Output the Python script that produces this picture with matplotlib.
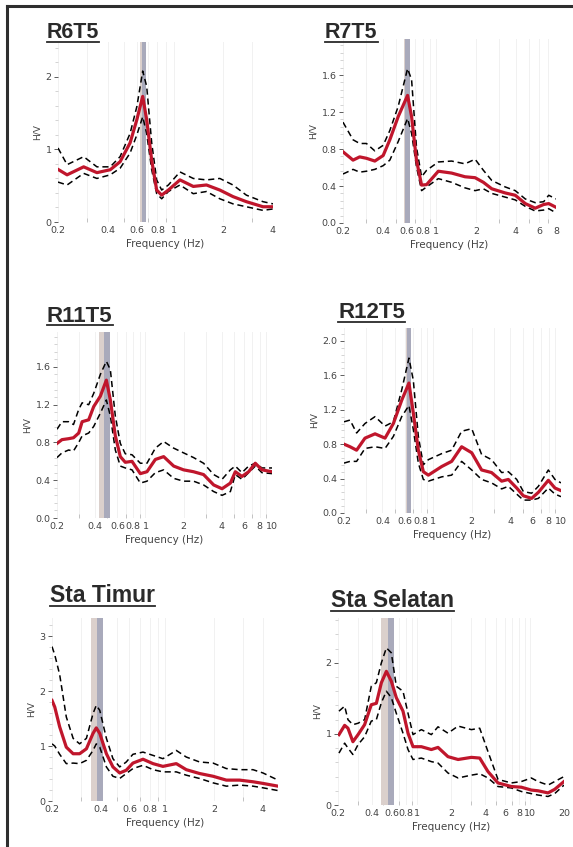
import matplotlib.pyplot as plt
from matplotlib.lines import Line2D
from matplotlib.ticker import FixedLocator, NullFormatter, LogLocator

# ---- R6T5 ----
r6_f = [0.2, 0.227, 0.286, 0.344, 0.414, 0.475, 0.546, 0.60, 0.651, 0.688, 0.738, 0.791,
        0.848, 0.931, 1.094, 1.317, 1.583, 1.907, 2.29, 2.76, 3.48, 4.0]
r6_mean = [0.725, 0.65, 0.76, 0.68, 0.72, 0.83, 1.09, 1.41, 1.73, 1.41, 0.85, 0.44,
           0.37, 0.44, 0.58, 0.49, 0.51, 0.44, 0.35, 0.28, 0.21, 0.21]
r6_up = [1.02, 0.79, 0.90, 0.76, 0.76, 0.90, 1.22, 1.59, 2.08, 1.87, 1.09, 0.58,
         0.44, 0.51, 0.69, 0.60, 0.58, 0.60, 0.51, 0.37, 0.28, 0.25]
r6_lo = [0.55, 0.51, 0.67, 0.60, 0.65, 0.74, 0.95, 1.20, 1.45, 1.22, 0.72, 0.39,
         0.32, 0.42, 0.51, 0.39, 0.42, 0.32, 0.25, 0.21, 0.16, 0.18]

# ---- R7T5 ----
r7_f = [0.2, 0.238, 0.267, 0.30, 0.347, 0.401, 0.45, 0.52, 0.612, 0.656, 0.714, 0.78,
        0.851, 1.042, 1.312, 1.655, 1.97, 2.275, 2.63, 3.32, 3.95, 4.7, 5.58, 6.46, 7.05, 8.0]
r7_mean = [0.77, 0.68, 0.715, 0.70, 0.67, 0.73, 0.90, 1.15, 1.38, 1.15, 0.68, 0.41,
           0.415, 0.56, 0.54, 0.50, 0.49, 0.44, 0.37, 0.325, 0.30, 0.21, 0.16, 0.20, 0.21, 0.17]
r7_up = [1.09, 0.90, 0.86, 0.86, 0.78, 0.84, 1.00, 1.26, 1.67, 1.55, 0.82, 0.50,
         0.57, 0.66, 0.67, 0.64, 0.69, 0.57, 0.46, 0.39, 0.35, 0.26, 0.22, 0.23, 0.30, 0.26]
r7_lo = [0.53, 0.58, 0.55, 0.56, 0.58, 0.62, 0.68, 0.88, 1.13, 0.97, 0.61, 0.35,
         0.39, 0.48, 0.44, 0.38, 0.35, 0.37, 0.32, 0.28, 0.25, 0.18, 0.13, 0.14, 0.155, 0.11]

# ---- R11T5 ----
r11_f = [0.2, 0.219, 0.247, 0.27, 0.297, 0.316, 0.356, 0.39, 0.44, 0.491, 0.528, 0.578,
         0.633, 0.693, 0.783, 0.911, 1.028, 1.197, 1.393, 1.671, 2.0, 2.4, 2.88, 3.46,
         4.03, 4.69, 5.13, 5.79, 6.54, 7.38, 8.33, 10.0]
r11_mean = [0.79, 0.83, 0.84, 0.85, 0.90, 1.02, 1.04, 1.18, 1.29, 1.46, 1.25, 0.87,
            0.65, 0.59, 0.60, 0.47, 0.49, 0.62, 0.65, 0.55, 0.51, 0.49, 0.46, 0.35,
            0.31, 0.37, 0.49, 0.44, 0.49, 0.58, 0.51, 0.49]
r11_up = [0.94, 1.02, 1.02, 0.99, 1.15, 1.22, 1.20, 1.32, 1.52, 1.66, 1.57, 1.08,
          0.79, 0.68, 0.67, 0.58, 0.58, 0.74, 0.81, 0.74, 0.69, 0.64, 0.58, 0.46,
          0.41, 0.51, 0.55, 0.48, 0.55, 0.58, 0.53, 0.53]
r11_lo = [0.64, 0.69, 0.72, 0.71, 0.80, 0.87, 0.90, 0.97, 1.11, 1.25, 1.08, 0.72,
          0.55, 0.53, 0.51, 0.37, 0.39, 0.48, 0.51, 0.42, 0.39, 0.39, 0.35, 0.28,
          0.24, 0.28, 0.46, 0.41, 0.48, 0.55, 0.48, 0.47]

# ---- R12T5 ----
r12_f = [0.2, 0.223, 0.251, 0.292, 0.35, 0.419, 0.487, 0.566, 0.645, 0.698, 0.764, 0.836,
         0.915, 1.164, 1.393, 1.667, 2.0, 2.39, 2.86, 3.43, 3.87, 4.5, 5.07, 5.89,
         6.65, 7.96, 8.97, 10.0]
r12_mean = [0.80, 0.77, 0.73, 0.87, 0.92, 0.87, 1.04, 1.31, 1.51, 1.16, 0.73, 0.48,
            0.44, 0.54, 0.60, 0.77, 0.70, 0.50, 0.47, 0.37, 0.39, 0.29, 0.20, 0.17,
            0.24, 0.38, 0.29, 0.26]
r12_up = [1.06, 1.08, 0.93, 1.04, 1.12, 1.01, 1.06, 1.43, 1.80, 1.54, 0.89, 0.56,
          0.62, 0.69, 0.73, 0.95, 0.98, 0.68, 0.62, 0.47, 0.48, 0.39, 0.25, 0.23,
          0.31, 0.50, 0.39, 0.35]
r12_lo = [0.58, 0.60, 0.60, 0.75, 0.77, 0.75, 0.89, 1.12, 1.25, 0.97, 0.58, 0.39,
          0.37, 0.42, 0.44, 0.60, 0.50, 0.39, 0.35, 0.28, 0.31, 0.22, 0.15, 0.15,
          0.17, 0.29, 0.22, 0.19]

# ---- Sta Timur ----
tim_f = [0.2, 0.208, 0.223, 0.245, 0.27, 0.296, 0.326, 0.358, 0.375, 0.394, 0.433, 0.475,
         0.523, 0.574, 0.631, 0.728, 0.839, 0.966, 1.168, 1.346, 1.626, 1.969, 2.377,
         2.87, 3.47, 4.0, 4.95]
tim_mean = [1.83, 1.71, 1.35, 0.98, 0.86, 0.86, 0.95, 1.23, 1.33, 1.23, 0.86, 0.62,
            0.51, 0.56, 0.69, 0.76, 0.68, 0.63, 0.68, 0.57, 0.50, 0.45, 0.38, 0.38,
            0.35, 0.32, 0.27]
tim_up = [2.81, 2.66, 2.30, 1.53, 1.14, 1.04, 1.14, 1.59, 1.74, 1.65, 1.14, 0.77,
          0.62, 0.71, 0.85, 0.89, 0.83, 0.77, 0.92, 0.80, 0.71, 0.69, 0.59, 0.57,
          0.57, 0.51, 0.38]
tim_lo = [1.04, 1.00, 0.85, 0.68, 0.69, 0.68, 0.74, 0.92, 1.04, 0.98, 0.62, 0.45,
          0.41, 0.50, 0.59, 0.65, 0.57, 0.53, 0.53, 0.47, 0.41, 0.33, 0.27, 0.29,
          0.27, 0.24, 0.19]

# ---- Sta Selatan ----
sel_f = [0.204, 0.229, 0.245, 0.271, 0.301, 0.344, 0.394, 0.437, 0.484, 0.536, 0.593,
         0.656, 0.752, 0.833, 0.922, 1.093, 1.34, 1.535, 1.88, 2.31, 3.03, 3.59, 4.25,
         5.21, 6.84, 8.39, 10.28, 11.78, 14.44, 16.54, 20.0]
sel_mean = [0.99, 1.12, 1.08, 0.89, 0.99, 1.13, 1.41, 1.43, 1.72, 1.88, 1.74, 1.51,
            1.32, 1.01, 0.82, 0.82, 0.78, 0.81, 0.68, 0.64, 0.67, 0.66, 0.47, 0.31,
            0.26, 0.25, 0.21, 0.20, 0.17, 0.22, 0.33]
sel_up = [1.32, 1.39, 1.20, 1.13, 1.15, 1.20, 1.67, 1.72, 2.00, 2.21, 2.14, 1.67,
          1.60, 1.29, 0.99, 1.06, 0.99, 1.10, 1.01, 1.11, 1.06, 1.08, 0.75, 0.36,
          0.31, 0.33, 0.38, 0.33, 0.28, 0.33, 0.40]
sel_lo = [0.73, 0.87, 0.80, 0.71, 0.85, 0.96, 1.18, 1.20, 1.44, 1.60, 1.51, 1.29,
          1.01, 0.78, 0.64, 0.66, 0.61, 0.59, 0.45, 0.38, 0.42, 0.44, 0.38, 0.26,
          0.24, 0.19, 0.16, 0.14, 0.12, 0.16, 0.28]

panels = [
    # name, f, mean, up, lo, band (lo, mid, hi), xlim, ylim, xticks, yticks, ydigits
    ("R6T5", r6_f, r6_mean, r6_up, r6_lo, (0.627, 0.645, 0.682), (0.2, 4), (0, 2.48),
     [0.2, 0.4, 0.6, 0.8, 1, 2, 4], [0, 1, 2], 0),
    ("R7T5", r7_f, r7_mean, r7_up, r7_lo, (0.575, 0.59, 0.638), (0.2, 8), (0, 1.99),
     [0.2, 0.4, 0.6, 0.8, 1, 2, 4, 6, 8], [0, 0.4, 0.8, 1.2, 1.6], 1),
    ("R11T5", r11_f, r11_mean, r11_up, r11_lo, (0.43, 0.47, 0.525), (0.2, 10), (0, 1.97),
     [0.2, 0.4, 0.6, 0.8, 1, 2, 4, 6, 8, 10], [0, 0.4, 0.8, 1.2, 1.6], 1),
    ("R12T5", r12_f, r12_mean, r12_up, r12_lo, (0.612, 0.625, 0.669), (0.2, 10), (0, 2.15),
     [0.2, 0.4, 0.6, 0.8, 1, 2, 4, 6, 8, 10], [0, 0.4, 0.8, 1.2, 1.6, 2.0], 1),
    ("Sta Timur", tim_f, tim_mean, tim_up, tim_lo, (0.348, 0.379, 0.413), (0.2, 4.95), (0, 3.33),
     [0.2, 0.4, 0.6, 0.8, 1, 2, 4], [0, 1, 2, 3], 0),
    ("Sta Selatan", sel_f, sel_mean, sel_up, sel_lo, (0.48, 0.554, 0.626), (0.2, 20), (0, 2.63),
     [0.2, 0.4, 0.6, 0.8, 1, 2, 4, 6, 8, 10, 20], [0, 1, 2], 0),
]

# axes rectangles in pixels: left, right, top, bottom
boxes = [(58, 273, 42, 222), (343, 556, 39, 223),
         (57, 272, 332, 518), (344, 561, 328, 513),
         (52, 278, 618, 801), (338, 564, 618, 805)]
# title left x, baseline y, underline y, font size
titles = [(47, 38, 42, 15.5), (325, 38, 42, 15.5),
          (47, 322, 325, 16), (338, 318, 322, 16),
          (50, 602, 606, 16.5), (331, 607, 611, 16.5)]

W, H = 573, 847
fig = plt.figure(figsize=(W / 100, H / 100), dpi=100)
fig.patch.set_facecolor("white")

tick_col = "#444444"
for p, box, tt in zip(panels, boxes, titles):
    name, f, mean, up, lo, band, xlim, ylim, xt, yt, yd = p
    l, r, t, b = box
    ax = fig.add_axes([l / W, 1 - b / H, (r - l) / W, (b - t) / H])
    ax.set_axisbelow(True)
    ax.set_xscale("log")
    ax.axvspan(band[0], band[1], color="#dbd0cc", lw=0, zorder=1)
    ax.axvspan(band[1], band[2], color="#a9aabb", lw=0, zorder=1)
    ax.plot(f, up, ls=(0, (4, 2.5)), color="black", lw=1.1, zorder=3)
    ax.plot(f, lo, ls=(0, (4, 2.5)), color="black", lw=1.1, zorder=3)
    ax.plot(f, mean, color="#c0162c", lw=2.3, zorder=4, solid_joinstyle="round")
    ax.set_xlim(*xlim)
    ax.set_ylim(*ylim)
    for s in ax.spines.values():
        s.set_visible(False)
    ax.xaxis.set_major_locator(FixedLocator(xt))
    ax.set_xticklabels([("%g" % v) for v in xt])
    ax.xaxis.set_minor_locator(LogLocator(base=10, subs=range(1, 10)))
    ax.xaxis.set_minor_formatter(NullFormatter())
    ax.yaxis.set_major_locator(FixedLocator(yt))
    ax.set_yticklabels([("%.*f" % (yd, v)) for v in yt])
    step = (yt[1] - yt[0]) / 5
    ax.yaxis.set_minor_locator(FixedLocator([i * step for i in range(int(ylim[1] / step) + 1)]))
    ax.grid(True, which="both", axis="x", color="#f1f1f1", lw=0.7)
    ax.tick_params(axis="both", which="major", labelsize=6.8, colors=tick_col,
                   length=3, width=0.6, pad=1.5)
    ax.tick_params(axis="x", which="minor", direction="in", length=3, width=0.6,
                   colors="#bbbbbb")
    ax.tick_params(axis="y", which="minor", direction="out", length=2, width=0.6,
                   colors="#cccccc")
    ax.tick_params(axis="x", which="major", direction="in", length=0, pad=3)
    ax.set_xlabel("Frequency (Hz)", fontsize=7.5, color=tick_col, labelpad=3)
    ax.set_ylabel("H/V", fontsize=6.5, color=tick_col, labelpad=3)

    tx, ty, uy, fs = tt
    txt = fig.text(tx / W, 1 - ty / H, name, fontsize=fs, fontweight="bold",
                   family="Liberation Sans", color="#2a2a2a", va="baseline", ha="left")
    fig.canvas.draw()
    bb = txt.get_window_extent()
    fig.add_artist(Line2D([tx / W, bb.x1 / W], [1 - uy / H, 1 - uy / H],
                          color="#2a2a2a", lw=1.3, transform=fig.transFigure))

# outer frame (top and left edges)
fig.add_artist(Line2D([7 / W, 1], [1 - 6 / H, 1 - 6 / H], color="#2e2e2e", lw=2.2,
                      transform=fig.transFigure))
fig.add_artist(Line2D([7 / W, 7 / W], [1 - 6 / H, 0], color="#2e2e2e", lw=2.2,
                      transform=fig.transFigure))

fig.savefig("out.png", dpi=100)
